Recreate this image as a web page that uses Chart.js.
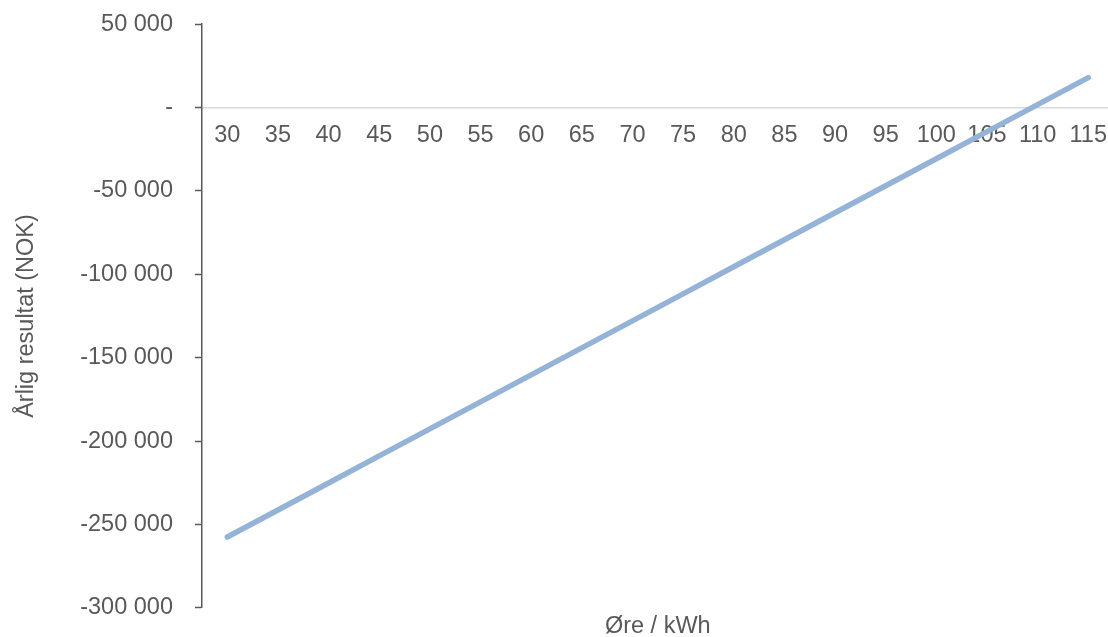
<!DOCTYPE html>
<html>
<head>
<meta charset="utf-8">
<script src="https://cdn.jsdelivr.net/npm/chart.js@4/dist/chart.umd.min.js"></script>
<style>
  html, body { margin: 0; padding: 0; background: #fff; overflow: hidden; }
  #wrap { width: 1121px; height: 656px; margin-top: -12px; position: relative; }
</style>
</head>
<body>
<div id="wrap"><canvas id="chart"></canvas></div>
<script>
// price per kWh (øre)
const categories = ['30', '35', '40', '45', '50', '55', '60', '65', '70', '75', '80', '85', '90', '95', '100', '105', '110', '115'];
// yearly result (NOK)
const resultValues = [-257500, -241300, -225100, -208900, -192700, -176500, -160300, -144100, -127900,
  -111700, -95500, -79300, -63100, -46900, -30700, -14500, 1700, 17900];
const yMin = -300000;
const yMax = 50000;
const yStep = 50000;
const xTitle = 'Øre / kWh';
const yTitle = 'Årlig resultat (NOK)';

const grey = '#595959';
const font = { family: '"Liberation Sans", Arial, sans-serif', size: 23.5, weight: 'normal' };

function nok(v){
  if (v === 0) return '-';
  const s = Math.abs(v).toString().replace(/\B(?=(\d{3})+(?!\d))/g, ' ');
  return (v < 0 ? '-' : '') + s;
}

// x axis sits on the zero line, so its title is drawn under the plot by hand
const bottomTitle = {
  id: 'bottomTitle',
  afterDraw(chart){
    const a = chart.chartArea;
    const c = chart.ctx;
    c.save();
    c.fillStyle = grey;
    c.font = font.size + 'px ' + font.family;
    c.textAlign = 'center';
    c.textBaseline = 'middle';
    c.fillText(xTitle, (a.left + a.right) / 2, a.bottom + 19);
    c.restore();
  }
};

const ctx = document.getElementById('chart');
new Chart(ctx, {
  type: 'line',
  data: {
    labels: categories,
    datasets: [{
      label: 'Årlig resultat',
      data: resultValues,
      borderColor: '#95b3d7',
      borderWidth: 5.5,
      borderCapStyle: 'round',
      pointRadius: 0,
      tension: 0
    }]
  },
  options: {
    responsive: true,
    maintainAspectRatio: false,
    animation: false,
    layout: { padding: { top: 12, left: 0, right: 0, bottom: 30 } },
    plugins: {
      legend: { display: false },
      tooltip: { enabled: false }
    },
    scales: {
      x: {
        position: { y: 0 },
        offset: true,
        grid: { display: false, drawTicks: false },
        border: { display: true, color: '#d9d9d9', width: 1.5 },
        ticks: { color: grey, font: font, padding: 14, maxRotation: 0, autoSkip: false }
      },
      y: {
        min: yMin,
        max: yMax,
        grid: { display: true, drawOnChartArea: false, drawTicks: true, tickLength: 7, tickColor: grey, tickWidth: 1.5 },
        border: { display: true, color: grey, width: 1.5 },
        ticks: { stepSize: yStep, color: grey, font: font, padding: 22, callback: (v) => nok(v) },
        title: {
          display: true,
          text: yTitle,
          color: grey,
          font: font,
          padding: { top: 12, bottom: 18 }
        }
      }
    }
  },
  plugins: [bottomTitle]
});
</script>
</body>
</html>
